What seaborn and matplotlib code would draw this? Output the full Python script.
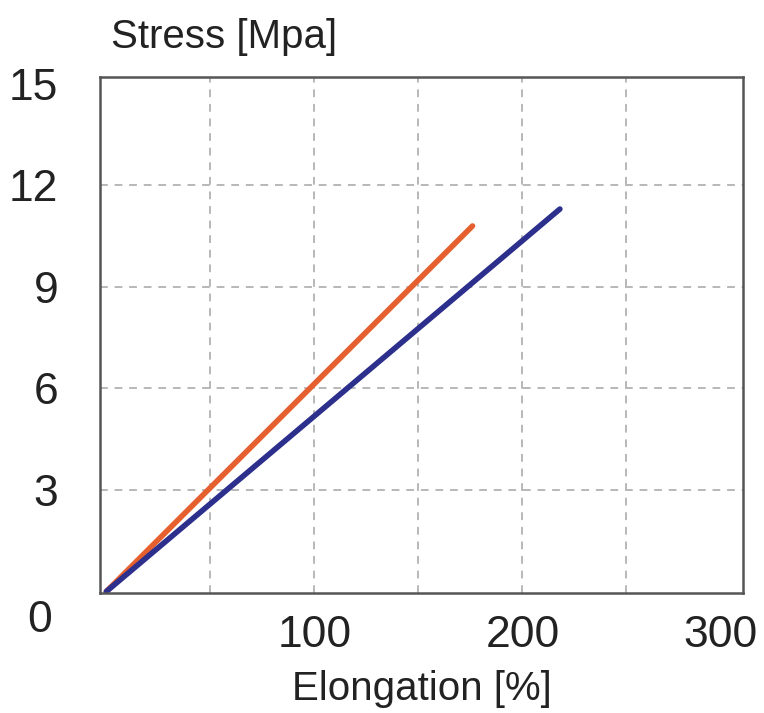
import pandas as pd
import seaborn as sns
import matplotlib.pyplot as plt
from matplotlib.transforms import ScaledTranslation

# two straight stress-strain curves
elong_orange = [0, 176]
stress_orange = [0, 10.8]
elong_blue = [0, 218]
stress_blue = [0, 11.3]

x_ticks = [100, 200, 300]
y_ticks = [0, 3, 6, 9, 12, 15]
x_grid = [50, 100, 150, 200, 250]

df = pd.concat([
    pd.DataFrame({"elong": elong_orange, "stress": stress_orange, "sample": "A"}),
    pd.DataFrame({"elong": elong_blue, "stress": stress_blue, "sample": "B"}),
])

sns.set_style("white")
plt.rcParams['font.family'] = ['Liberation Sans', 'DejaVu Sans']

fig = plt.figure(figsize=(7.64, 7.13), dpi=100)
ax = fig.add_axes([0.131, 0.168, 0.8415, 0.724])

sns.lineplot(data=df, x="elong", y="stress", hue="sample",
             palette={"A": "#e6602f", "B": "#2c2f8c"},
             linewidth=4.0, legend=False, ax=ax, solid_capstyle="round")

ax.set_xlim(-3, 306)
ax.set_ylim(-0.05, 15.2)

# dashed grid, vertical every 50, horizontal every 3
for gx in x_grid:
    ax.axvline(gx, color="#b8b8b8", linestyle=(0, (4, 3.5)), linewidth=1.4, zorder=0)
for gy in y_ticks[1:-1]:
    ax.axhline(gy, color="#b8b8b8", linestyle=(0, (4, 3.5)), linewidth=1.4, zorder=0)

ax.set_xticks(x_ticks)
ax.set_xticklabels([str(t) for t in x_ticks])
ax.set_yticks(y_ticks)
ax.set_yticklabels([str(t) for t in y_ticks])
ax.tick_params(axis="both", length=0, labelsize=32, colors="#222222")
ax.tick_params(axis="x", pad=16)
ax.tick_params(axis="y", pad=30)

# the "0" sits a bit lower than the axis, "300" a bit left of its spot
zero = ax.get_yticklabels()[0]
zero.set_transform(zero.get_transform() + ScaledTranslation(-0.06, -0.24, fig.dpi_scale_trans))
three = ax.get_xticklabels()[-1]
three.set_transform(three.get_transform() + ScaledTranslation(-0.10, 0, fig.dpi_scale_trans))

for s in ax.spines.values():
    s.set_color("#555555")
    s.set_linewidth(1.8)

ax.set_xlabel("Elongation [%]", fontsize=29, color="#222222", labelpad=10)
ax.set_ylabel("")
fig.text(0.145, 0.948, "Stress [Mpa]", fontsize=29, color="#222222", va="center")

fig.savefig("out.png", dpi=100)
